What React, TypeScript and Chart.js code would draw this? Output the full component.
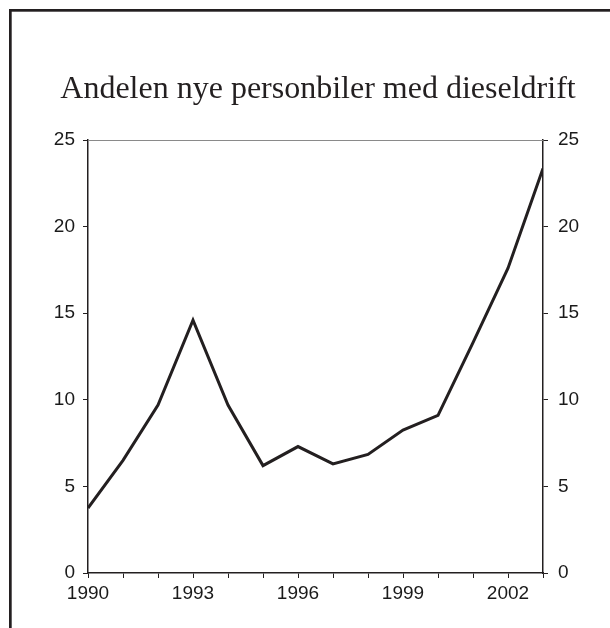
import React, { useEffect, useRef } from "react";
import { Chart, registerables } from "chart.js";

Chart.register(...registerables);

const TITLE = "Andelen nye personbiler med dieseldrift";
const YEARS = [1990, 1991, 1992, 1993, 1994, 1995, 1996, 1997, 1998, 1999, 2000, 2001, 2002, 2003];
const DIESEL_SHARE = [3.75, 6.5, 9.7, 14.6, 9.7, 6.2, 7.3, 6.3, 6.85, 8.25, 9.1, 13.3, 17.6, 23.35];
const X_LABEL_YEARS = [1990, 1993, 1996, 1999, 2002];
const Y_MIN = 0;
const Y_MAX = 25;
const Y_STEP = 5;

const INK = "#231f20";

const framePlugin = {
  id: "frame",
  beforeDraw(chart: any) {
    const ctx = chart.ctx;
    ctx.save();
    ctx.fillStyle = "#ffffff";
    ctx.fillRect(0, 0, chart.width, chart.height);
    ctx.fillStyle = INK;
    ctx.fillRect(9, 9, 2.7, chart.height);
    ctx.fillRect(9, 9, chart.width, 2.7);
    ctx.font = "32px 'Liberation Serif', 'Times New Roman', serif";
    ctx.textAlign = "center";
    ctx.textBaseline = "alphabetic";
    ctx.fillText(TITLE, 318, 98);
    ctx.restore();
  },
  afterDatasetsDraw(chart: any) {
    const { ctx, chartArea } = chart;
    ctx.save();
    ctx.strokeStyle = "#8a8a8a";
    ctx.lineWidth = 1;
    ctx.beginPath();
    ctx.moveTo(chartArea.left, chartArea.top + 0.5);
    ctx.lineTo(chartArea.right, chartArea.top + 0.5);
    ctx.stroke();
    ctx.restore();
  },
};

export default function App() {
  const ref = useRef<HTMLCanvasElement | null>(null);

  useEffect(() => {
    if (!ref.current) return;
    const tickFont = { family: "'Liberation Sans', Arial, sans-serif", size: 19 };
    const chart = new Chart(ref.current, {
      type: "line",
      data: {
        datasets: [
          {
            label: TITLE,
            data: YEARS.map((y, i) => ({ x: y, y: DIESEL_SHARE[i] })),
            borderColor: INK,
            borderWidth: 3,
            pointRadius: 0,
            tension: 0,
            fill: false,
          },
        ],
      },
      options: {
        animation: false,
        responsive: false,
        maintainAspectRatio: false,
        layout: { padding: { top: 140, left: 0, right: 0, bottom: 0 } },
        plugins: {
          legend: { display: false },
          tooltip: { enabled: false },
          title: { display: false, text: TITLE },
        },
        scales: {
          x: {
            type: "linear",
            min: YEARS[0],
            max: YEARS[YEARS.length - 1],
            afterBuildTicks: (axis: any) => {
              axis.ticks = YEARS.map((v) => ({ value: v }));
            },
            afterFit: (axis: any) => {
              axis.height = 55;
            },
            ticks: {
              autoSkip: false,
              maxRotation: 0,
              padding: 4,
              color: "#1a1a1a",
              font: tickFont,
              callback: (v: any) => (X_LABEL_YEARS.includes(Number(v)) ? String(v) : ""),
            },
            grid: { drawOnChartArea: false, tickLength: 5, tickColor: INK, lineWidth: 1 },
            border: { display: true, color: INK, width: 1.5 },
          },
          y: {
            position: "left",
            min: Y_MIN,
            max: Y_MAX,
            afterFit: (axis: any) => {
              axis.width = 88;
            },
            ticks: { stepSize: Y_STEP, padding: 8, color: "#1a1a1a", font: tickFont },
            grid: { drawOnChartArea: false, tickLength: 5, tickColor: INK, lineWidth: 1 },
            border: { display: true, color: INK, width: 1.5 },
          },
          y2: {
            position: "right",
            min: Y_MIN,
            max: Y_MAX,
            afterFit: (axis: any) => {
              axis.width = 67;
            },
            ticks: { stepSize: Y_STEP, padding: 10, color: "#1a1a1a", font: tickFont },
            grid: { drawOnChartArea: false, tickLength: 5, tickColor: INK, lineWidth: 1 },
            border: { display: true, color: INK, width: 1.5 },
          },
        },
      },
      plugins: [framePlugin],
    } as any);
    return () => chart.destroy();
  }, []);

  return (
    <div style={{ position: "absolute", left: 0, top: 0, width: 610, height: 628 }}>
      <canvas ref={ref} width={610} height={628} style={{ display: "block" }} />
    </div>
  );
}
